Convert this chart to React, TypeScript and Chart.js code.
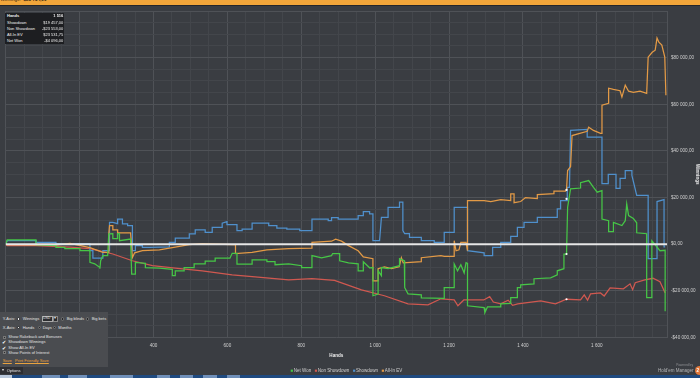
import React, { useEffect, useRef } from "react";
import { Chart, registerables } from "chart.js";

Chart.register(...registerables);

// ---------------- data ----------------
const seriesNames = ["Net Won", "Non Showdown", "Showdown", "All-In EV"];
const seriesColors = ["#46c646", "#d05850", "#4f90cc", "#e39a46"];

const netWonHands = [0,4,82,82,136,136,160,160,201,201,228,228,241,255,255,257,263,276,279,290,290,303,303,308,308,338,341,351,351,378,378,416,451,451,459,459,483,483,510,510,540,540,567,567,607,613,626,626,667,667,707,707,729,729,766,801,801,829,829,855,882,885,904,904,928,954,954,968,968,985,994,994,1008,1008,1017,1017,1035,1066,1066,1079,1080,1089,1125,1125,1187,1187,1214,1214,1223,1232,1241,1246,1250,1250,1295,1297,1304,1340,1340,1367,1367,1385,1385,1394,1394,1430,1430,1475,1493,1493,1511,1511,1518,1521,1529,1556,1556,1578,1591,1601,1614,1614,1632,1632,1645,1645,1668,1677,1681,1686,1699,1708,1708,1735,1735,1749,1749,1771,1785,1785];
const netWonValues = [0,1900,1900,-200,-600,-1400,-1400,-1900,-1900,-2800,-2800,-7800,-8400,-10000,-10500,-7100,-4900,-4900,4400,4500,2400,2400,4500,4500,1500,2200,-12800,-12800,-7800,-8200,-10000,-10300,-10800,-13500,-13500,-11400,-11400,-10000,-10000,-8400,-8400,-7300,-7300,-6000,-6000,-3900,-3900,-8500,-8500,-6700,-6700,-7500,-7500,-8800,-8400,-9200,-10000,-10000,-4900,-5800,-4900,-4000,-4000,-7100,-8000,-8400,-11400,-11400,-7500,-10100,-10000,-22100,-21400,-11400,-13500,-10000,-10500,-9200,-6200,-7100,-18600,-21300,-21700,-23000,-23200,-18600,-18600,-8500,-11400,-8800,-12300,-7900,-8200,-26400,-27200,-29300,-26900,-26900,-25600,-25400,-22900,-22900,-18600,-18600,-17400,-17000,-14800,-14400,-13100,-11400,-10500,-4200,-4200,15800,23700,24100,26400,27300,24400,22300,23000,10800,10100,5400,5400,9400,8000,10100,17300,12300,11000,9200,4900,4500,-22900,-22900,1500,-2800,-2600,-28700];

const nonShowdownHands = [0,4,82,174,228,263,290,343,397,459,532,613,675,766,829,890,963,1025,1089,1143,1178,1214,1224,1240,1294,1310,1320,1340,1360,1372,1386,1448,1488,1518,1556,1566,1575,1583,1610,1620,1636,1672,1690,1697,1704,1730,1752,1771,1785];
const nonShowdownValues = [0,-600,-600,-1300,-1900,-3200,-4200,-7100,-9200,-10300,-11400,-13100,-14000,-15300,-14800,-15500,-19600,-22100,-25600,-26000,-23400,-23900,-26400,-23900,-23900,-22500,-24800,-25600,-24000,-26200,-25600,-24300,-25600,-23600,-23900,-21700,-24000,-21300,-20900,-22200,-18700,-19100,-17000,-19500,-16500,-15300,-14600,-16100,-20900];

const showdownHands = [0,4,82,82,136,136,228,228,236,236,263,263,281,281,290,303,303,316,316,330,330,343,343,351,351,370,370,389,443,443,459,459,497,497,513,513,540,540,559,559,586,586,599,599,626,626,640,640,667,667,712,712,734,734,761,761,796,796,829,829,873,873,882,882,900,900,954,954,968,968,985,985,994,994,1012,1017,1035,1035,1066,1066,1075,1075,1080,1093,1093,1125,1125,1160,1160,1187,1187,1214,1214,1250,1250,1295,1295,1318,1318,1340,1340,1367,1367,1385,1385,1403,1403,1439,1439,1493,1493,1502,1502,1520,1520,1526,1529,1574,1574,1614,1614,1631,1631,1652,1652,1663,1663,1677,1677,1695,1695,1708,1739,1739,1763,1763,1782,1782,1785];
const showdownValues = [0,1500,1500,800,800,200,200,-2800,-2800,-6000,-6000,-2800,-2800,9400,9400,8800,10800,10800,8700,8700,8000,8000,-2800,-2800,-600,-600,-1400,-1400,-1100,800,800,2600,2600,4400,4400,6200,6200,5100,5100,7200,7200,9000,9700,8400,8400,5800,5800,6500,6500,9000,9000,8000,8000,6900,6900,6500,6500,5800,5800,10800,10800,10100,10100,11400,11400,10800,10800,12300,12300,14000,14000,13000,13000,1500,1500,11500,11500,15800,15800,18000,18000,5800,4500,4500,2900,2900,1500,1500,800,800,5100,5100,15800,15800,-2800,-3700,-4900,-4900,-1400,-1400,800,800,3400,3400,7200,7200,9400,9400,11500,11500,15100,15100,18700,18700,24400,24400,48800,49200,45900,45900,26000,26000,29900,29900,23900,23900,28200,28200,31600,31600,29500,20900,20900,-6200,-6200,18300,19100,-1100,-1100];

const allInEvHands = [0,4,136,174,228,263,279,279,281,290,290,303,303,338,343,349,370,416,451,497,532,613,622,622,667,707,766,829,829,882,893,909,928,954,968,994,994,1008,1008,1025,1044,1065,1071,1076,1125,1125,1178,1187,1214,1214,1219,1227,1232,1246,1250,1250,1295,1313,1340,1367,1367,1376,1376,1394,1407,1439,1439,1484,1484,1515,1518,1521,1529,1533,1574,1578,1591,1610,1614,1614,1632,1632,1645,1663,1668,1677,1686,1699,1717,1735,1739,1750,1758,1763,1768,1776,1784,1787];
const allInEvValues = [0,-200,-400,400,-1500,-3500,-3500,4400,8000,8000,6200,6200,4900,4900,-5700,-3700,-2800,-2400,-1500,-200,200,-200,-200,-4000,-3500,-2400,-1900,-1700,800,1300,2200,1300,-600,-2800,-5400,-6200,-15700,-15700,-10500,-9700,-10500,-9700,-5800,-8000,-7500,-5800,-4900,-5200,-5200,1500,-2800,-2400,800,800,-2800,18700,18700,18300,19100,18700,21600,21600,17800,18300,20000,19600,21300,21700,22800,22800,23400,31600,33300,46600,48400,50200,48800,47500,47500,59600,60400,66900,66400,65800,63100,68200,65600,65100,65600,64700,80200,82300,83200,88400,86600,85400,80200,63900];

const markerHands = [1518, 1518, 1518, 1518];
const markerValues = [23300, 19400, -4200, -23600];

const handsMin = 0;
const handsMax = 1790;
const winMin = -40000;
const winMax = 100000;
const xLabelHands = [200, 400, 600, 800, 1000, 1200, 1400, 1600];
const yLabelValues = [-40000, -20000, 0, 20000, 40000, 60000, 80000];

const statLabels = ["Hands", "Showdown", "Non Showdown", "All-In EV", "Net Won"];
const statValues = ["1 516", "$19 457,00", "-$23 553,00", "$23 531,75", "-$4 096,00"];
const totalWinnings = "-$28 734,00";

// ---------------- style ----------------
const FONT = '"Liberation Sans", Arial, sans-serif';
const BG = "#3a3d42";
const GRID_MAJOR = "#4f5257";
const GRID_MINOR = "#43464b";
const TEXT = "#d0d0d0";

const group = (s: string) => s.replace(/\B(?=(\d{3})+(?!\d))/g, " ");
const fmtMoney = (v: number) => (v < 0 ? "-" : "") + "$" + group(String(Math.abs(Math.round(v)))) + ",00";
const fmtHands = (v: number) => group(String(v));
const pts = (h: number[], v: number[]) => h.map((x, i) => ({ x, y: v[i] }));

const legendPlugin = {
  id: "hemLegend",
  afterDraw(chart: any) {
    const ctx = chart.ctx;
    const items = chart.data.datasets.filter((d: any) => d.hemLegend);
    ctx.save();
    ctx.font = `4.5px ${FONT}`;
    const box = 2.2, gapText = 3, gapItem = 3.7;
    const widths = items.map((d: any) => ctx.measureText(d.label).width);
    const total = widths.reduce((a: number, w: number) => a + gapText + w, 0) + gapItem * (items.length - 1);
    let x = 346.5 - total / 2;
    const y = 370.7;
    ctx.textBaseline = "middle";
    ctx.textAlign = "left";
    items.forEach((d: any, i: number) => {
      ctx.fillStyle = d.borderColor;
      ctx.fillRect(x, y - box / 2, box, box);
      ctx.fillStyle = TEXT;
      ctx.fillText(d.label, x + gapText, y);
      x += gapText + widths[i] + gapItem;
    });
    ctx.restore();
  },
};

const T = (p: any) => (
  <div
    style={{
      position: "absolute",
      left: p.right === undefined ? p.x : undefined,
      right: p.right !== undefined ? 700 - p.right : undefined,
      top: p.y,
      transform: "translateY(-50%)",
      fontSize: p.size || 4,
      lineHeight: 1,
      color: p.color || "#e2e2e2",
      fontWeight: p.bold ? 700 : 400,
      fontFamily: FONT,
      whiteSpace: "nowrap",
      textDecoration: p.u ? "underline" : "none",
    }}
  >
    {p.children}
  </div>
);

const Radio = ({ x, y, on }: any) => (
  <div style={{ position: "absolute", left: x - 1.6, top: y - 1.6, width: 3.2, height: 3.2, borderRadius: "50%", background: on ? "#eee" : "#26272a", border: on ? "0.8px solid #26272a" : "0.5px solid #777", boxSizing: "border-box" }} />
);
const Box = ({ x, y }: any) => (
  <div style={{ position: "absolute", left: x - 1.5, top: y - 1.5, width: 3, height: 3, background: "#2b2c2f", border: "0.5px solid #777", boxSizing: "border-box" }} />
);

export default function App() {
  const ref = useRef<HTMLCanvasElement | null>(null);

  useEffect(() => {
    if (!ref.current) return;
    const xGrid: number[] = [];
    for (let h = handsMin; h <= 1750; h += 50) xGrid.push(h);
    xGrid.push(handsMax);
    const yGrid: number[] = [];
    for (let v = winMin; v <= winMax; v += 5000) yGrid.push(v);

    const line = (i: number, h: number[], v: number[], order: number) => ({
      label: seriesNames[i],
      data: pts(h, v),
      borderColor: seriesColors[i],
      backgroundColor: seriesColors[i],
      borderWidth: 1.25,
      pointRadius: 0,
      tension: 0,
      fill: false,
      order,
      hemLegend: true,
    });

    const chart = new Chart(ref.current, {
      type: "line",
      data: {
        datasets: [
          {
            label: "poi",
            data: pts(markerHands, markerValues),
            showLine: false,
            pointRadius: 1.1,
            pointBorderWidth: 0,
            pointBackgroundColor: "#ffffff",
            order: -1,
          } as any,
          {
            label: "zero",
            data: [{ x: handsMin, y: 0 }, { x: handsMax, y: 0 }],
            borderColor: "#e6e6e6",
            borderWidth: 2,
            pointRadius: 0,
            order: 0,
          } as any,
          line(0, netWonHands, netWonValues, 1),
          line(1, nonShowdownHands, nonShowdownValues, 4),
          line(2, showdownHands, showdownValues, 3),
          line(3, allInEvHands, allInEvValues, 2),
        ],
      },
      options: {
        animation: false,
        responsive: false,
        maintainAspectRatio: false,
        devicePixelRatio: 1,
        layout: { padding: { left: 2.5, top: 11, right: 0, bottom: 18 } },
        plugins: { legend: { display: false }, tooltip: { enabled: false } },
        scales: {
          x: {
            type: "linear",
            min: handsMin,
            max: handsMax,
            afterBuildTicks: (s: any) => {
              s.ticks = xGrid.map((v) => ({ value: v }));
            },
            afterFit: (s: any) => {
              s.height = 22.5;
            },
            grid: {
              drawTicks: false,
              color: (c: any) => (c.tick && (c.tick.value % 200 === 0 || c.tick.value === handsMax) ? GRID_MAJOR : GRID_MINOR),
            },
            border: { display: false },
            ticks: {
              autoSkip: false,
              maxRotation: 0,
              padding: 5.7,
              color: TEXT,
              font: { family: FONT, size: 4.6 },
              callback: (v: any) => (xLabelHands.includes(Number(v)) ? fmtHands(Number(v)) : ""),
            },
            title: {
              display: true,
              text: "Hands",
              color: "#ececec",
              font: { family: FONT, size: 4.6, weight: "bold" },
              padding: { top: 0, bottom: 2 },
            },
          },
          y: {
            type: "linear",
            position: "right",
            min: winMin,
            max: winMax,
            afterBuildTicks: (s: any) => {
              s.ticks = yGrid.map((v) => ({ value: v }));
            },
            afterFit: (s: any) => {
              s.width = 33;
            },
            grid: {
              drawTicks: false,
              color: (c: any) => (c.tick && c.tick.value % 20000 === 0 ? GRID_MAJOR : GRID_MINOR),
            },
            border: { display: false },
            ticks: {
              autoSkip: false,
              padding: 4,
              color: TEXT,
              font: { family: FONT, size: 4.6 },
              callback: (v: any) => (yLabelValues.includes(Number(v)) ? fmtMoney(Number(v)) : ""),
            },
            title: {
              display: true,
              text: "Winnings",
              color: "#ececec",
              font: { family: FONT, size: 4.6, weight: "bold" },
              padding: 0,
            },
          },
        },
      } as any,
      plugins: [legendPlugin],
    });
    return () => chart.destroy();
  }, []);

  const statY = [16.2, 22.6, 28.7, 34.8, 40.9];
  const taskBlocks = [[0, 12], [42, 60], [68, 87], [110, 133], [157, 170], [180, 193], [203, 217], [227, 240]];

  return (
    <div style={{ position: "relative", width: 700, height: 378, background: BG, overflow: "hidden" }}>
      <style>{"body{margin:0}"}</style>
      <canvas ref={ref} width={700} height={378} style={{ position: "absolute", left: 0, top: 0 }} />

      {/* top bar */}
      <div style={{ position: "absolute", left: 0, top: 0, width: 700, height: 4.5, background: "#f2a63a", overflow: "hidden" }}>
        <div style={{ position: "absolute", left: 0.5, top: -1.8, fontSize: 4.6, lineHeight: 1, color: "#3b2a12", fontFamily: FONT, whiteSpace: "nowrap" }}>
          Winnings: <b>{totalWinnings}</b>
        </div>
      </div>
      <div style={{ position: "absolute", left: 0, top: 4.5, width: 700, height: 1.5, background: "#25262a" }} />

      {/* stats box */}
      <div style={{ position: "absolute", left: 5, top: 12.7, width: 59, height: 31.6, background: "#1d1e21" }} />
      {statLabels.map((l, i) => (
        <T key={"l" + i} x={7} y={statY[i]} bold={i === 0} color="#f0f0f0">{l}</T>
      ))}
      {statValues.map((v, i) => (
        <T key={"v" + i} right={63.3} y={statY[i]} bold={i === 0} color="#f0f0f0">{v}</T>
      ))}

      {/* options panel */}
      <div style={{ position: "absolute", left: 0, top: 311.7, width: 108.3, height: 55, background: "#4a4c50" }} />
      <T x={2.7} y={319}>Y-Axis:</T>
      <Radio x={18.3} y={319} on />
      <T x={22.7} y={319}>Winnings</T>
      <div style={{ position: "absolute", left: 41.7, top: 316.3, width: 11.5, height: 5.4, background: "#2c2d30", border: "0.5px solid #aaa", boxSizing: "border-box" }} />
      <T x={43} y={319} size={3.5}>USD</T>
      <div style={{ position: "absolute", left: 53.2, top: 316.3, width: 5, height: 5.4, background: "#2a2b2e", border: "0.5px solid #888", boxSizing: "border-box" }} />
      <T x={54.2} y={319} size={3.5}>▾</T>
      <Radio x={62.3} y={319} />
      <T x={66.7} y={319}>Big blinds</T>
      <Radio x={87.3} y={319} />
      <T x={91.7} y={319}>Big bets</T>

      <T x={2.7} y={327.7}>X-Axis:</T>
      <Radio x={18.3} y={327.7} on />
      <T x={22.7} y={327.7}>Hands</T>
      <Radio x={39.3} y={327.7} />
      <T x={42.7} y={327.7}>Days</T>
      <Radio x={54.3} y={327.7} />
      <T x={58.3} y={327.7}>Months</T>

      <Box x={4} y={337} />
      <T x={8.3} y={337}>Show Rakeback and Bonuses</T>
      <T x={2.3} y={342.2} size={5} color="#ffffff">✔</T>
      <T x={8.3} y={342.3}>Showdown Winnings</T>
      <T x={2.3} y={347.6} size={5} color="#ffffff">✔</T>
      <T x={8.3} y={347.7}>Show All-In EV</T>
      <Box x={4} y={352.7} />
      <T x={8.3} y={352.7}>Show Points of Interest</T>
      <T x={2.7} y={360.7} color="#e8a23e" u>Save</T>
      <T x={15} y={360.7} color="#e8a23e" u>Print Friendly Save</T>

      <div style={{ position: "absolute", left: 0, top: 367, width: 23, height: 7, background: "#2d2e32" }} />
      <T x={2} y={370.6} size={3.5}>▾</T>
      <T x={6.7} y={370.8} size={4}>Options</T>

      {/* powered by */}
      <T right={693} y={366} size={3.2} color="#8f9194">Powered by</T>
      <T right={693.5} y={370.7} size={4.5} color="#b4b6b8">Hold'em Manager</T>
      <div style={{ position: "absolute", left: 694.8, top: 366.3, width: 9, height: 9, borderRadius: "50%", background: "#e0773a" }} />
      <T x={696.5} y={370.9} size={4.5} color="#fff" bold>2</T>

      {/* taskbar */}
      <div style={{ position: "absolute", left: 0, top: 374.8, width: 700, height: 3.2, background: "#1f4a80" }} />
      {taskBlocks.map((b, i) => (
        <div key={"t" + i} style={{ position: "absolute", left: b[0], top: 374.8, width: b[1] - b[0], height: 3.2, background: i === 0 ? "#b9c8db" : "#6f8fb9" }} />
      ))}
    </div>
  );
}
